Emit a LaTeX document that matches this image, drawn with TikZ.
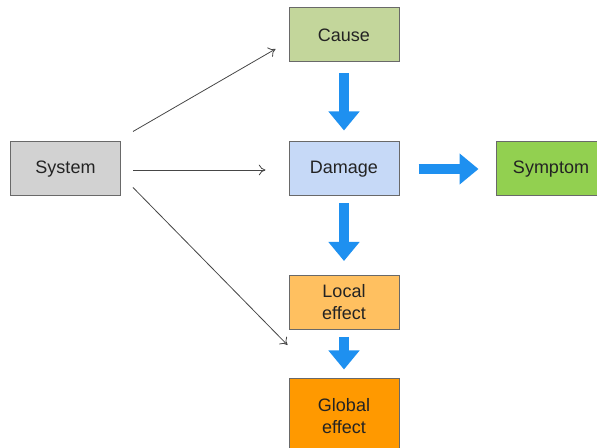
\documentclass[tikz,border=0pt]{standalone}
\usepackage{fontspec}
\setmainfont{Liberation Sans}
\usetikzlibrary{arrows.meta,calc}

\tikzset{every picture/.style={line width=0.75pt}}

\begin{document}
\begin{tikzpicture}[x=0.75pt,y=0.75pt,yscale=-1,xscale=1,
  box/.style={draw={rgb,255:red,105;green,105;blue,105},line width=0.75pt,minimum width=82.5pt,minimum height=40.5pt,inner sep=0.75pt,align=center,text={rgb,255:red,35;green,35;blue,35},font=\fontsize{13.5}{16.5}\selectfont},
  thinarrow/.style={draw={rgb,255:red,70;green,70;blue,70},line width=0.6pt,-{To[length=5pt,width=8pt]}},
  fatarrow/.style={draw={rgb,255:red,30;green,144;blue,240},line width=7.5pt,-{Triangle[width=22.5pt,length=14.25pt]}}]
\useasboundingbox (0,0) rectangle (597,448);

% Boxes
\node [box,fill={rgb,255:red,195;green,214;blue,155}] (cause) at (344,35) {Cause};
\node [box,fill={rgb,255:red,210;green,210;blue,210}] (system) at (65.5,169) {System};
\node [box,fill={rgb,255:red,198;green,217;blue,247}] (damage) at (344,169) {Damage};
\node [box,fill={rgb,255:red,146;green,208;blue,80}] (symptom) at (551,169) {Symptom};
\node [box,fill={rgb,255:red,255;green,192;blue,96}] (local) at (344,302.5) {Local\\effect};
\node [box,fill={rgb,255:red,255;green,153;blue,0},minimum height=55.5pt] (global) at (344,416) {Global\\effect};

% Thin arrows from System
\draw [thinarrow] ($(system.north east)+(12,-10)$) -- ($(cause.west)+(-13,14)$);
\draw [thinarrow] ($(system.east)+(12,1)$) -- ($(damage.west)+(-23,1)$);
\draw [thinarrow] ($(system.south east)+(12,-9)$) -- ($(local.south west)+(-1,15)$);

% Block arrows
\draw [fatarrow] ($(cause.south)+(0,11)$) -- ($(damage.north)+(0,-11)$);
\draw [fatarrow] ($(damage.south)+(0,7)$) -- ($(local.north)+(0,-14)$);
\draw [fatarrow] ($(local.south)+(0,7)$) -- ($(global.north)+(0,-9)$);
\draw [fatarrow] ($(damage.east)+(19,0)$) -- ($(symptom.west)+(-17,0)$);

\end{tikzpicture}
\end{document}
